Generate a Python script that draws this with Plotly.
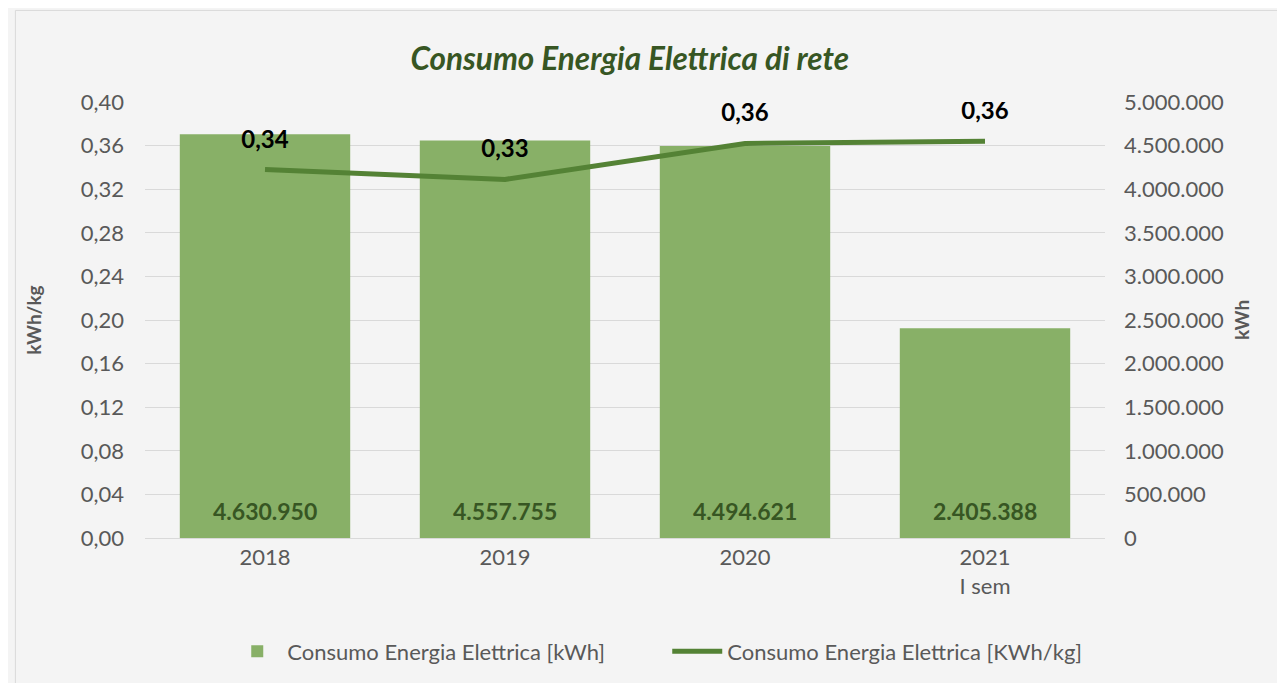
import plotly.graph_objects as go

years = ["2018", "2019", "2020", "2021<br>I sem"]
kwh = [4630950, 4557755, 4494621, 2405388]
kwh_kg = [0.338, 0.329, 0.362, 0.364]

bar_name = "Consumo Energia Elettrica [kWh]"
line_name = "Consumo Energia Elettrica [KWh/kg]"

FONT = "Lato"
GREY = "#595959"
DARK = "#375623"
LINE = "#548235"

fig = go.Figure()

# bars on the base axis (right side) so the line on the overlay axis is drawn above them
fig.add_trace(go.Bar(
    x=years, y=kwh, name=bar_name, yaxis="y",
    marker=dict(color="#88b067", line=dict(width=0)),
    hoverinfo="y",
))

fig.add_trace(go.Scatter(
    x=years, y=kwh_kg, name=line_name, yaxis="y2",
    mode="lines+markers+text",
    line=dict(color=LINE, width=5),
    marker=dict(size=24, color="rgba(0,0,0,0)"),
    texttemplate="<b>%{y:.2f}</b>", textposition="top center",
    textfont=dict(family=FONT, size=24, color="black"),
))

# value labels near the base of the bars (category index keeps "2018" from being read as a number)
for i, v in enumerate(kwh):
    fig.add_annotation(
        x=i, y=0, xref="x", yref="y", yanchor="middle", yshift=27,
        text=f"<b>{v:,}</b>".replace(",", "."), showarrow=False,
        font=dict(family=FONT, size=23, color=DARK),
    )

fig.update_layout(
    width=1285, height=683,
    separators=",.",
    paper_bgcolor="#f4f4f4", plot_bgcolor="rgba(0,0,0,0)",
    margin=dict(l=137, r=188, t=94, b=153),
    font=dict(family=FONT, size=22, color=GREY),
    bargap=0.29,
    title=dict(
        text="<b><i>Consumo Energia Elettrica di rete</i></b>",
        xref="paper", x=0.505, xanchor="center", y=0.925, yanchor="middle",
        font=dict(family=FONT, size=31.5, color=DARK),
    ),
    xaxis=dict(type="category", showgrid=False, showline=True, linecolor="#d9d9d9", ticks="",
               tickfont=dict(size=22, color=GREY)),
    yaxis=dict(
        side="right", range=[0, 5000000], dtick=500000, tickformat=",d",
        showgrid=True, gridcolor="#d9d9d9", gridwidth=1, zeroline=False,
        ticklabelstandoff=18,
        title=dict(text="<b>kWh</b>", font=dict(size=19, color=GREY), standoff=12),
        tickfont=dict(size=22, color=GREY),
    ),
    yaxis2=dict(
        side="left", overlaying="y", range=[0, 0.40], dtick=0.04, tickformat=".2f",
        showgrid=False, zeroline=False,
        ticklabelstandoff=20,
        title=dict(text="<b>kWh/kg</b>", font=dict(size=19, color=GREY), standoff=34),
        tickfont=dict(size=22, color=GREY),
    ),
    legend=dict(orientation="h", x=0.544, xanchor="center", y=-0.26, yanchor="middle",
                font=dict(size=22, color=GREY), bgcolor="rgba(0,0,0,0)",
                itemwidth=50, entrywidth=375),
    showlegend=True,
)

fig.add_shape(type="rect", xref="paper", yref="paper",
              x0=-0.135, x1=1.19, y0=-0.34, y1=1.21,
              line=dict(color="#d9d9d9", width=1), fillcolor="rgba(0,0,0,0)", layer="below")

fig.write_html("out.html")
